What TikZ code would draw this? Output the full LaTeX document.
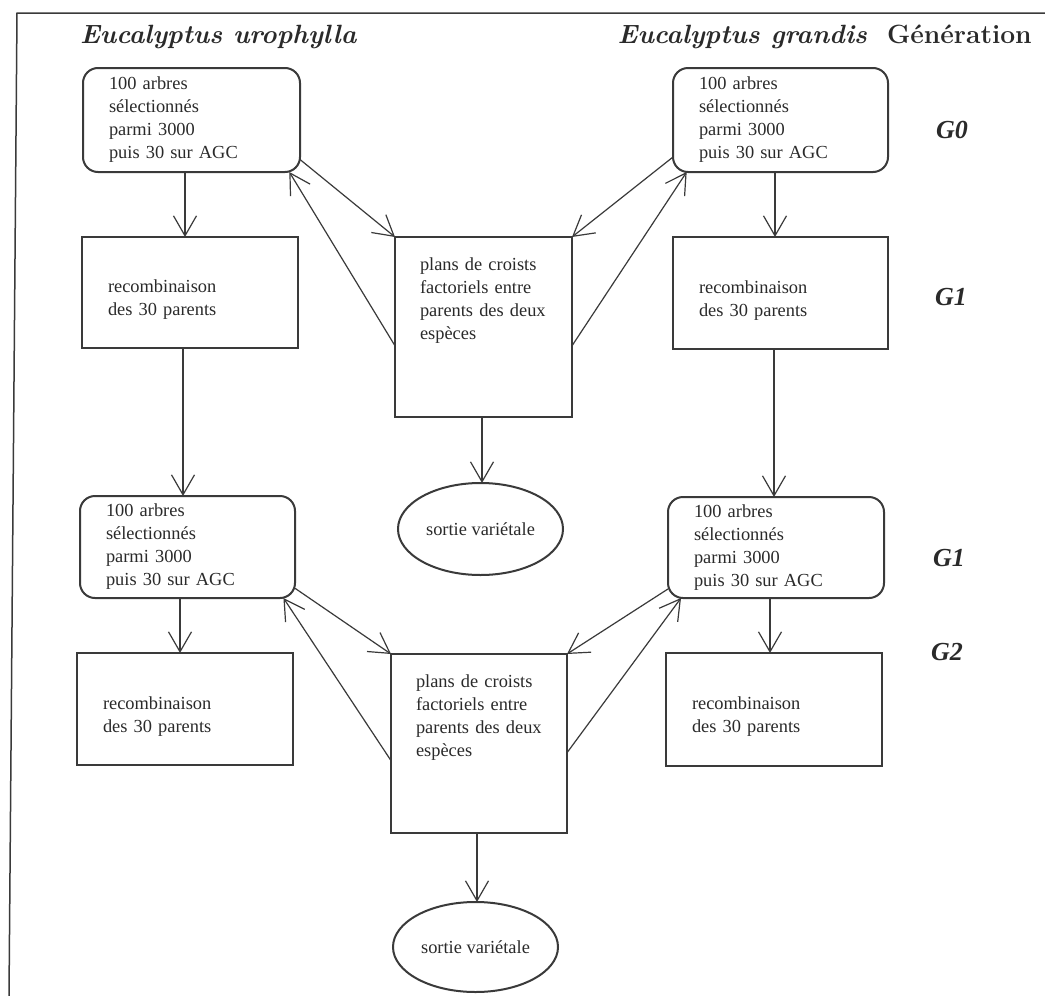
\documentclass[tikz,border=0pt]{standalone}
\usepackage{fontspec}
\newfontfamily\tnr{Liberation Serif}
\usetikzlibrary{arrows.meta,shapes.geometric}
\definecolor{ink}{HTML}{3A3A3A}
\definecolor{txt}{HTML}{2A2A2A}
\begin{document}
\begin{tikzpicture}[x=0.5pt,y=-0.5pt,
  every node/.style={inner sep=0pt,outer sep=0pt},
  boxtext/.style={font=\tnr\fontsize{9.2}{11.5}\selectfont, text=txt, align=left},
  selbox/.style={boxtext, draw=ink, line width=1pt, rounded corners=7.5pt, inner xsep=13pt, text height=6.3pt},
  recbox/.style={boxtext, draw=ink, line width=1pt, inner xsep=13pt, text height=6.3pt, text depth=6.3pt},
  crossbox/.style={boxtext, draw=ink, line width=1pt, inner xsep=12.5pt, text height=6.3pt},
  outbox/.style={ellipse, boxtext, draw=ink, line width=1pt, align=center},
  arr/.style={draw=ink, line width=0.6pt, -{Straight Barb[length=10pt,width=11.5pt]}},
  species/.style={font=\fontsize{13.2}{15}\selectfont\bfseries\itshape, text=txt},
  genhead/.style={font=\fontsize{13.2}{15}\selectfont\bfseries, text=txt},
  gen/.style={font=\tnr\fontsize{13}{15}\selectfont\bfseries\itshape, text=txt},
]
\useasboundingbox (0,0) rectangle (1045,996);
\fill[white] (0,0) rectangle (1045,996);

% frame
\draw[ink, line width=0.75pt] (1045,13) -- (17,13) -- (9,996);

% headers
\node[species, anchor=base west] (hu) at (80,43) {Eucalyptus urophylla};
\node[species, anchor=base east] (hg) at (867,43) {Eucalyptus grandis};
\node[genhead, anchor=base west] (hgen) at (887,43) {Génération};

% generation labels
\node[gen] (g0) at (952,130) {G0};
\node[gen] (g1a) at (951,297) {G1};
\node[gen] (g1b) at (949,558) {G1};
\node[gen] (g2) at (947,652) {G2};

% upper part
\node[selbox, minimum width=108.5pt, minimum height=52pt, text width=82.5pt] (ulA) at (191.5,120)
  {100 arbres\\sélectionnés\\parmi 3000\\puis 30 sur AGC};
\node[selbox, minimum width=107.5pt, minimum height=52pt, text width=81.5pt] (urA) at (780.5,120)
  {100 arbres\\sélectionnés\\parmi 3000\\puis 30 sur AGC};
\node[recbox, minimum width=108pt, minimum height=55.5pt, text width=82pt] (rlA) at (190,292.5)
  {recombinaison\\des 30 parents};
\node[recbox, minimum width=107.5pt, minimum height=56pt, text width=81.5pt] (rrA) at (780.5,293)
  {recombinaison\\des 30 parents};
\node[crossbox, minimum width=88.5pt, minimum height=90pt, text width=63.5pt, text depth=63.3pt] (cA) at (483.5,327)
  {plans de croists\\factoriels entre\\parents des deux\\espèces};
\node[outbox, minimum width=82.5pt, minimum height=46pt] (eA) at (480.5,529) {sortie variétale};

% lower part
\node[selbox, minimum width=107.5pt, minimum height=51pt, text width=81.5pt] (ulB) at (187.5,547)
  {100 arbres\\sélectionnés\\parmi 3000\\puis 30 sur AGC};
\node[selbox, minimum width=108pt, minimum height=50.5pt, text width=82pt] (urB) at (776,547.5)
  {100 arbres\\sélectionnés\\parmi 3000\\puis 30 sur AGC};
\node[recbox, minimum width=108pt, minimum height=56pt, text width=82pt] (rlB) at (185,709)
  {recombinaison\\des 30 parents};
\node[recbox, minimum width=108pt, minimum height=56.5pt, text width=82pt] (rrB) at (774,709.5)
  {recombinaison\\des 30 parents};
\node[crossbox, minimum width=88pt, minimum height=89.5pt, text width=63pt, text depth=62.8pt] (cB) at (479,743.5)
  {plans de croists\\factoriels entre\\parents des deux\\espèces};
\node[outbox, minimum width=82.5pt, minimum height=45pt] (eB) at (475.5,947) {sortie variétale};

% vertical connectors
\draw[arr] ([xshift=-3.25pt]ulA.south) coordinate (a1) -- (a1 |- rlA.north);
\draw[arr] ([xshift=-3.5pt]rlA.south) coordinate (a2) -- (a2 |- ulB.north);
\draw[arr] ([xshift=-3.75pt]ulB.south) coordinate (a3) -- (a3 |- rlB.north);
\draw[arr] ([xshift=-2.75pt]urA.south) coordinate (a4) -- (a4 |- rrA.north);
\draw[arr] ([xshift=-3.25pt]rrA.south) coordinate (a5) -- (a5 |- urB.north);
\draw[arr] ([xshift=-3pt]urB.south) coordinate (a6) -- (a6 |- rrB.north);
\draw[arr] ([xshift=-0.75pt]cA.south) coordinate (a7) -- (a7 |- eA.north);
\draw[arr] ([xshift=-1pt]cB.south) coordinate (a8) -- (a8 |- eB.north);

% diagonal connectors, upper
\draw[arr] (ulA.-20.6) -- (cA.north west);
\draw[arr] (cA.192.7) -- (ulA.-28.3);
\draw[arr] (urA.199.8) -- (cA.north east);
\draw[arr] (cA.-12.7) -- (urA.209.1);

% diagonal connectors, lower
\draw[arr] (ulB.-21.2) -- (cB.north west);
\draw[arr] (cB.191.7) -- (ulB.-28.4);
\draw[arr] (urB.201) -- (cB.north east);
\draw[arr] (cB.-6.2) -- (urB.208.2);
\end{tikzpicture}
\end{document}
